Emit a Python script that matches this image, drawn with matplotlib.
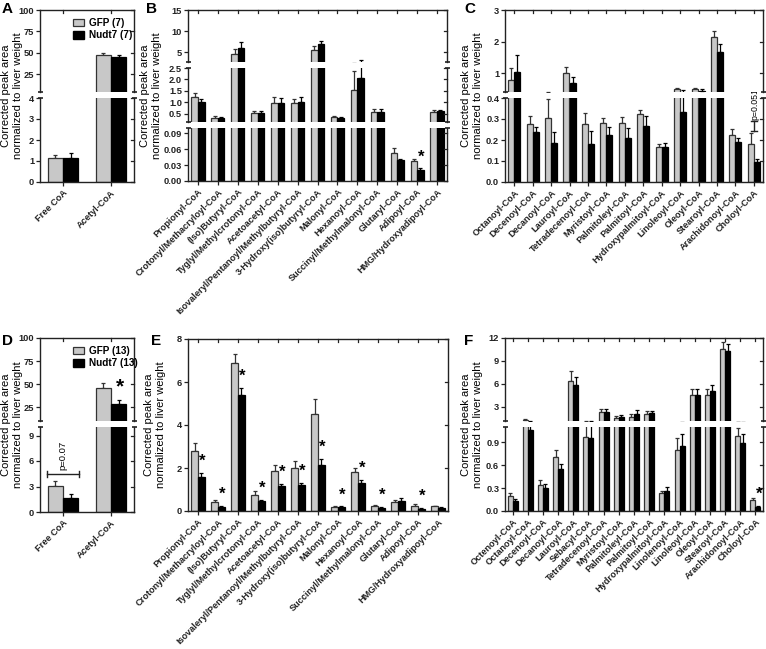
import numpy as np
import matplotlib.pyplot as plt
from matplotlib.ticker import FormatStrFormatter
from matplotlib.patches import Patch

plt.rcParams['font.family'] = ['Liberation Sans', 'DejaVu Sans']

# ---------------- data ----------------
ad_cats = ['Free CoA', 'Acetyl-CoA']
a_gfp = [1.16, 47.4]
a_gfp_err = [0.11, 2.6]
a_nudt = [1.16, 44.6]
a_nudt_err = [0.2, 2.8]

d_gfp = [3.05, 46.3]
d_gfp_err = [0.65, 5.3]
d_nudt = [1.6, 28.3]
d_nudt_err = [0.48, 4.0]

short_cats = ['Propionyl-CoA', 'Crotonyl/Methacryloyl-CoA', '(Iso)Butyryl-CoA',
              'Tyglyl/Methylcrotonyl-CoA', 'Acetoacetyl-CoA',
              'Isovaleryl/Pentanoyl/Methylbutyryl-CoA', '3-Hydroxy(iso)butyryl-CoA',
              'Malonyl-CoA', 'Hexanoyl-CoA', 'Succinyl/Methylmalonyl-CoA',
              'Glutaryl-CoA', 'Adipoyl-CoA', 'HMG/Hydroxyadipoyl-CoA']
b_gfp = [1.22, 0.33, 4.6, 0.52, 0.97, 0.97, 5.55, 0.35, 1.56, 0.6, 0.0525, 0.038, 0.6]
b_gfp_err = [0.19, 0.1, 1.1, 0.1, 0.25, 0.18, 1.0, 0.05, 0.83, 0.12, 0.0095, 0.003, 0.08]
b_nudt = [1.03, 0.34, 5.95, 0.55, 0.96, 1.01, 6.9, 0.34, 2.06, 0.6, 0.039, 0.021, 0.62]
b_nudt_err = [0.12, 0.03, 1.45, 0.07, 0.22, 0.24, 0.8, 0.03, 1.12, 0.1, 0.003, 0.0026, 0.07]
b_stars = [11]

e_gfp = [2.77, 0.4, 6.87, 0.76, 1.85, 2.02, 4.5, 0.19, 1.82, 0.25, 0.4, 0.25, 0.22]
e_gfp_err = [0.4, 0.12, 0.42, 0.16, 0.27, 0.31, 0.69, 0.03, 0.16, 0.05, 0.1, 0.06, 0.03]
e_nudt = [1.57, 0.18, 5.38, 0.45, 1.15, 1.2, 2.13, 0.17, 1.28, 0.14, 0.45, 0.11, 0.16]
e_nudt_err = [0.2, 0.04, 0.34, 0.08, 0.09, 0.1, 0.27, 0.04, 0.15, 0.05, 0.17, 0.03, 0.03]
e_stars = [0, 1, 2, 3, 4, 5, 6, 7, 8, 9, 11]

c_cats = ['Octanoyl-CoA', 'Decenoyl-CoA', 'Decanoyl-CoA', 'Lauroyl-CoA',
          'Tetradecenoyl-CoA', 'Myristoyl-CoA', 'Palmitoleyl-CoA', 'Palmitoyl-CoA',
          'Hydroxypalmitoyl-CoA', 'Linoleoyl-CoA', 'Oleoyl-CoA', 'Stearoyl-CoA',
          'Arachidonoyl-CoA', 'Choloyl-CoA']
c_gfp = [0.78, 0.276, 0.303, 1.0, 0.274, 0.279, 0.282, 0.323, 0.167, 0.5, 0.5, 2.13, 0.225, 0.18]
c_gfp_err = [0.38, 0.04, 0.09, 0.18, 0.053, 0.027, 0.029, 0.022, 0.013, 0.03, 0.035, 0.19, 0.027, 0.052]
c_nudt = [1.05, 0.237, 0.187, 0.68, 0.181, 0.225, 0.211, 0.266, 0.167, 0.332, 0.43, 1.68, 0.192, 0.095]
c_nudt_err = [0.53, 0.026, 0.05, 0.19, 0.061, 0.037, 0.046, 0.048, 0.018, 0.12, 0.06, 0.24, 0.018, 0.013]

f_cats = ['Octenoyl-CoA', 'Octanoyl-CoA', 'Decenoyl-CoA', 'Decanoyl-CoA', 'Lauroyl-CoA',
          'Sebacyl-CoA', 'Tetradecenoyl-CoA', 'Myristoyl-CoA', 'Palmitoleyl-CoA',
          'Palmitoyl-CoA', 'Hydroxypalmitoyl-CoA', 'Linolenoyl-CoA', 'Linoleoyl-CoA',
          'Oleoyl-CoA', 'Stearoyl-CoA', 'Arachidonoyl-CoA', 'Choloyl-CoA']
f_gfp = [0.195, 1.25, 0.34, 0.71, 6.37, 0.97, 2.3, 1.57, 1.7, 2.14, 0.24, 0.8, 4.5, 4.6, 10.55, 0.98, 0.14]
f_gfp_err = [0.035, 0.12, 0.06, 0.09, 1.37, 0.25, 0.49, 0.3, 0.4, 0.35, 0.02, 0.16, 0.8, 0.7, 0.95, 0.11, 0.03]
f_nudt = [0.13, 1.06, 0.3, 0.55, 5.84, 0.95, 2.33, 1.7, 2.14, 2.18, 0.26, 0.85, 4.5, 5.1, 10.24, 0.89, 0.053]
f_nudt_err = [0.025, 0.16, 0.05, 0.06, 1.09, 0.27, 0.46, 0.3, 0.43, 0.31, 0.06, 0.16, 0.8, 0.75, 1.01, 0.12, 0.017]
f_stars = [16]

# ---------------- style ----------------
W, H = 766, 649
GREY = '#c8c8c8'
EDGE = '#333333'
AX = '#222222'
YLAB = 'Corrected peak area\nnormalized to liver weight'

fig = plt.figure(figsize=(W / 100, H / 100), dpi=100)


def px_ax(x0, x1, y0, y1):
    return fig.add_axes([x0 / W, 1 - y1 / H, (x1 - x0) / W, (y1 - y0) / H])


def draw_panel(x0, x1, segs, cats, gfp, gerr, nudt, nerr, stars=(), width=0.32,
               xlim=None, star_fs=12):
    # segs go bottom -> top: (y_top_px, y_bot_px, lo, hi, ticks, fmt)
    n = len(cats)
    x = np.arange(n)
    gfp, gerr, nudt, nerr = map(np.asarray, (gfp, gerr, nudt, nerr))
    axes = []
    w_px = x1 - x0
    for k, (y0, y1, lo, hi, ticks, fmt) in enumerate(segs):
        ax = px_ax(x0, x1, y0, y1)
        h_px = y1 - y0
        first, last = k == 0, k == len(segs) - 1
        ax.bar(x - width / 2, gfp, width, color=GREY, edgecolor=EDGE, linewidth=0.9, zorder=2)
        ax.bar(x + width / 2, nudt, width, color='black', edgecolor='black', linewidth=0.9, zorder=2)
        ax.errorbar(x - width / 2, gfp, yerr=[np.zeros(n), gerr], fmt='none', ecolor=EDGE,
                    elinewidth=0.9, capsize=1.6, capthick=0.9, zorder=1)
        ax.errorbar(x + width / 2, nudt, yerr=[np.zeros(n), nerr], fmt='none', ecolor='black',
                    elinewidth=0.9, capsize=1.6, capthick=0.9, zorder=1)
        ax.set_xlim(xlim if xlim else (-0.5, n - 0.5))
        ax.set_ylim(lo, hi)
        ax.set_yticks(ticks)
        ax.yaxis.set_major_formatter(FormatStrFormatter(fmt))
        for lab in ax.get_yticklabels():
            lab.set_fontweight('bold')
        ax.tick_params(axis='y', direction='out', length=3, width=0.9, labelsize=6.7, pad=1.2,
                       colors=AX)
        for s in ax.spines.values():
            s.set_linewidth(1.0)
            s.set_color(AX)
        ax.spines['bottom'].set_visible(first)
        ax.spines['top'].set_visible(last)
        ax.set_xticks(x)
        if first:
            ax.tick_params(axis='x', direction='out', length=3, width=0.9, colors=AX, pad=1.5)
            ax.set_xticklabels(cats, rotation=45, ha='right', va='top', rotation_mode='anchor',
                               fontsize=6.6, fontweight='bold')
        else:
            ax.tick_params(axis='x', bottom=False, labelbottom=False)
        # inward ticks on the right spine
        for t in ticks:
            ax.plot([1, 1 - 3 / w_px], [t, t], transform=ax.get_yaxis_transform(),
                    color=AX, lw=0.9, clip_on=False)
        # inward ticks on the top spine
        if last:
            for xv in x:
                ax.plot([xv, xv], [1, 1 - 3 / h_px], transform=ax.get_xaxis_transform(),
                        color=AX, lw=0.9, clip_on=False)
        # caps at axis breaks
        ends = []
        if not first:
            ends.append(0)
        if not last:
            ends.append(1)
        for yy in ends:
            for xx in (0, 1):
                ax.plot([xx - 2.5 / w_px, xx + 2.5 / w_px], [yy, yy], transform=ax.transAxes,
                        color=AX, lw=1.2, clip_on=False, solid_capstyle='butt')
        axes.append(ax)
    for i in stars:
        top = nudt[i] + nerr[i]
        k = 0
        for j, s in enumerate(segs):
            if s[2] <= top < s[3]:
                k = j
        axes[k].annotate('*', xy=(i + width / 2, top), xytext=(0.8, 3),
                         textcoords='offset points', ha='center', va='bottom',
                         fontsize=star_fs, fontweight='bold', annotation_clip=False)
    return axes


def ylabel(xc, yc):
    fig.text(xc / W, 1 - yc / H, YLAB, rotation=90, ha='center', va='center',
             fontsize=8, linespacing=1.3)


def letter(x, y, s):
    fig.text(x / W, 1 - y / H, s, ha='left', va='top', fontsize=11, fontweight='bold')


def legend(ax, n1, n2):
    handles = [Patch(facecolor=GREY, edgecolor=EDGE, linewidth=0.9),
               Patch(facecolor='black', edgecolor='black')]
    ax.legend(handles, [f'GFP ({n1})', f'Nudt7 ({n2})'], loc='upper left',
              bbox_to_anchor=(0.27, 1.0), frameon=False, handlelength=1.1, handleheight=0.8,
              handletextpad=0.5, labelspacing=0.25, borderpad=0.3,
              prop={'size': 7.2, 'weight': 'bold'})


# ---------------- panel A ----------------
ax_a = draw_panel(40, 134, [(98, 182, 0, 4, [0, 1, 2, 3, 4], '%d'),
                            (10, 92, 4, 100, [25, 50, 75, 100], '%d')],
                  ad_cats, a_gfp, a_gfp_err, a_nudt, a_nudt_err, xlim=(-0.48, 1.48))
legend(ax_a[1], 7, 7)

# ---------------- panel B ----------------
ax_b = draw_panel(188, 447, [(128, 181, 0, 0.1, [0, 0.03, 0.06, 0.09], '%.2f'),
                             (68, 122, 0.15, 2.5, [0.5, 1.0, 1.5, 2.0, 2.5], '%.1f'),
                             (10, 62, 2.7, 15, [5, 10, 15], '%d')],
                  short_cats, b_gfp, b_gfp_err, b_nudt, b_nudt_err, stars=b_stars, width=0.33)

# ---------------- panel C ----------------
ax_c = draw_panel(505, 763, [(98, 182, 0, 0.4, [0, 0.1, 0.2, 0.3, 0.4], '%.1f'),
                             (10, 92, 0.4, 3, [1, 2, 3], '%d')],
                  c_cats, c_gfp, c_gfp_err, c_nudt, c_nudt_err, width=0.33)
axc = ax_c[0]
xb = 13.03
axc.plot([xb, xb], [0.243, 0.29], color=AX, lw=1.0, clip_on=False)
for yv in (0.243, 0.29):
    axc.plot([xb - 0.16, xb + 0.16], [yv, yv], color=AX, lw=1.0, clip_on=False)
axc.text(xb + 0.02, 0.297, 'p=0.051', rotation=90, ha='center', va='bottom', fontsize=6.3,
         clip_on=False)

# ---------------- panel D ----------------
ax_d = draw_panel(40, 134, [(427, 512, 0, 10, [0, 3, 6, 9], '%d'),
                            (338, 421, 10, 100, [25, 50, 75, 100], '%d')],
                  ad_cats, d_gfp, d_gfp_err, d_nudt, d_nudt_err, stars=[1], star_fs=15,
                  xlim=(-0.48, 1.48))
legend(ax_d[1], 13, 13)
axd = ax_d[0]
axd.plot([-0.33, 0.33], [4.47, 4.47], color=AX, lw=1.0)
for xv in (-0.33, 0.33):
    axd.plot([xv, xv], [4.1, 4.84], color=AX, lw=1.0)
axd.text(0.0, 4.95, 'p=0.07', rotation=90, ha='center', va='bottom', fontsize=6.8)

# ---------------- panel E ----------------
draw_panel(188, 448, [(339, 511, 0, 8, [0, 2, 4, 6, 8], '%d')],
           short_cats, e_gfp, e_gfp_err, e_nudt, e_nudt_err, stars=e_stars, width=0.33)

# ---------------- panel F ----------------
draw_panel(505, 763, [(427, 511, 0, 1.1, [0, 0.3, 0.6, 0.9], '%.1f'),
                      (338, 421, 1.17, 12, [3, 6, 9, 12], '%d')],
           f_cats, f_gfp, f_gfp_err, f_nudt, f_nudt_err, stars=f_stars, width=0.33)

# ---------------- labels ----------------
for xc, yc in [(12, 96), (151, 96), (472, 96), (12, 425), (155, 425), (472, 425)]:
    ylabel(xc, yc)
for x, y, s in [(2, 2, 'A'), (146, 2, 'B'), (464, 2, 'C'),
                (2, 334, 'D'), (151, 334, 'E'), (464, 334, 'F')]:
    letter(x, y, s)

fig.savefig('out.png', dpi=100)
